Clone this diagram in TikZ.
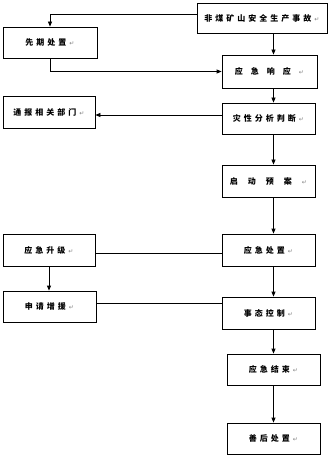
\documentclass[tikz,border=0pt]{standalone}
\usepackage{fontspec}
\newfontfamily\cjkf{Noto Sans CJK SC}
\newfontfamily\symf{DejaVu Sans}
\usetikzlibrary{arrows.meta,calc}
\newlength\mylsp
\def\spcA#1{\ifx\relax#1\else#1\kern\mylsp\expandafter\spcA\fi}
\newcommand\spc[2]{\setlength\mylsp{#1}\spcA#2\relax}
\newcommand\parmark{{\symf\mdseries\fontsize{6}{6}\selectfont\color{gray}\char"21B5}}
\begin{document}
\begin{tikzpicture}[x=1pt,y=-1pt,
  box/.style={draw=black,line width=0.8pt,rectangle,inner sep=0pt,align=center,
    font=\cjkf\bfseries\fontsize{8}{9}\selectfont},
  arr/.style={line width=0.8pt,-{Triangle[length=5pt,width=4pt]}},
  ln/.style={line width=0.8pt}]
\useasboundingbox (0,0) rectangle (330,457);
\node[box,minimum width=130pt,minimum height=30pt] (a) at (262,18) {\spc{3pt}{非煤矿山安全生产事故}\parmark};
\node[box,minimum width=94pt,minimum height=31pt] (b) at (50,42.5) {\spc{3pt}{先期处置}\parmark};
\node[box,minimum width=95pt,minimum height=33pt] (c) at (269.5,71.5) {\spc{8pt}{应急响应}\parmark};
\node[box,minimum width=93pt,minimum height=31pt] (d) at (268.5,118.5) {\spc{3pt}{灾性分析判断}\parmark};
\node[box,minimum width=92pt,minimum height=32pt] (e) at (49,112) {\spc{3pt}{通报相关部门}\parmark};
\node[box,minimum width=93pt,minimum height=32pt] (f) at (268.5,181) {\spc{10pt}{启动预案}\parmark};
\node[box,minimum width=93pt,minimum height=32pt] (g) at (268.5,250) {\spc{3pt}{应急处置}\parmark};
\node[box,minimum width=92pt,minimum height=32pt] (h) at (49,250) {\spc{3pt}{应急升级}\parmark};
\node[box,minimum width=93pt,minimum height=31pt] (i) at (49.5,306.5) {\spc{3pt}{申请增援}\parmark};
\node[box,minimum width=93pt,minimum height=32pt] (j) at (268.5,313) {\spc{3pt}{事态控制}\parmark};
\node[box,minimum width=93pt,minimum height=31pt] (k) at (273.5,369.5) {\spc{3pt}{应急结束}\parmark};
\node[box,minimum width=93pt,minimum height=31pt] (l) at (273.5,438.5) {\spc{3pt}{善后处置}\parmark};
% connectors
\draw[arr] ([yshift=4pt]a.west) -| (b.north);
\draw[arr] (a.south -| k.center) -- (c.north -| k.center);
\draw[arr] (b.south) |- (c.west);
\draw[arr] (c.south -| k.center) -- (d.north -| k.center);
\draw[arr] ([yshift=3.5pt]d.west) -- ([yshift=3.5pt]d.west -| e.east);
\draw[arr] (d.south -| k.center) -- (f.north -| k.center);
\draw[arr] (f.south -| k.center) -- (g.north -| k.center);
\draw[ln] ([yshift=-3pt]h.east) -- ([yshift=-3pt]h.east -| g.west);
\draw[arr] (h.south) -- (h.south |- i.north);
\draw[arr] (g.south -| k.center) -- (j.north -| k.center);
\draw[ln] ([yshift=3.5pt]i.east) -- ([yshift=3.5pt]i.east -| j.west);
\draw[arr] (j.south -| k.center) -- (k.north);
\draw[arr] (k.south) -- (l.north);
\end{tikzpicture}
\end{document}
